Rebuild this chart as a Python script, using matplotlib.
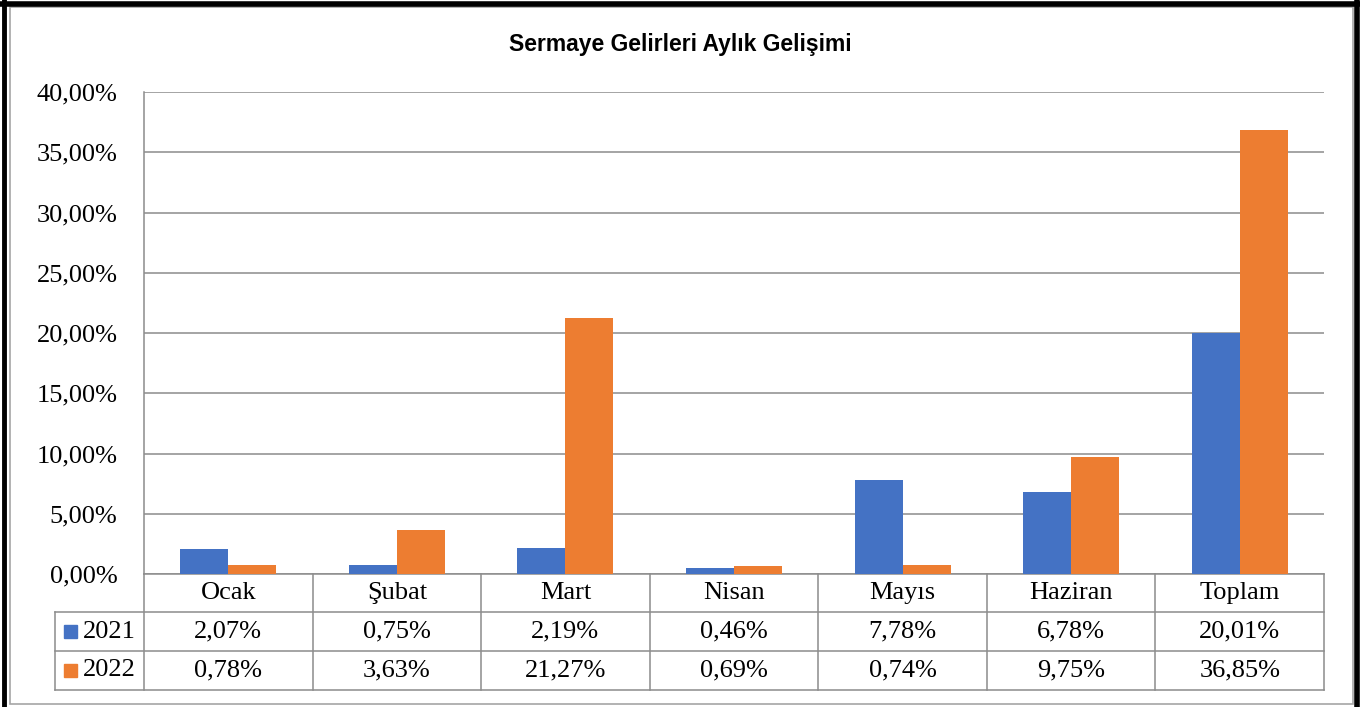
import matplotlib

matplotlib.use("Agg")

import matplotlib.pyplot as plt
import matplotlib.transforms as mtransforms
from matplotlib.patches import Rectangle
from matplotlib.lines import Line2D
import numpy as np

MONTHS = ["Ocak", "Şubat", "Mart", "Nisan", "Mayıs", "Haziran", "Toplam"]
SERIES = ["2021", "2022"]
VALUES_2021 = [2.07, 0.75, 2.19, 0.46, 7.78, 6.78, 20.01]
VALUES_2022 = [0.78, 3.63, 21.27, 0.69, 0.74, 9.75, 36.85]
COLORS = ["#4472C4", "#ED7D31"]
Y_TICKS = [0, 5, 10, 15, 20, 25, 30, 35, 40]
TITLE = "Sermaye Gelirleri Aylık Gelişimi"

GRID = "#8c8c8c"
SERIF = "Liberation Serif"


def pct(v):
    return f"{v:.2f}".replace(".", ",") + "%"


fig = plt.figure(figsize=(13.6, 7.07), dpi=100)
ax = fig.add_axes([144 / 1360, 1 - 574 / 707, 1180 / 1360, 482 / 707])

x = np.arange(len(MONTHS))
bar_w = 0.285
ax.bar(x - bar_w / 2, VALUES_2021, width=bar_w, color=COLORS[0], zorder=3)
ax.bar(x + bar_w / 2, VALUES_2022, width=bar_w, color=COLORS[1], zorder=3)

ax.set_xlim(-0.5, len(MONTHS) - 0.5)
ax.set_ylim(0, 40)
ax.set_yticks(Y_TICKS, labels=[pct(t) for t in Y_TICKS])
ax.set_xticks([])
ax.tick_params(axis="y", length=0, pad=19, labelsize=19)
for lab in ax.get_yticklabels():
    lab.set_fontfamily(SERIF)
ax.grid(axis="y", color=GRID, linewidth=1.1, zorder=0)
for side in ["top", "right", "bottom"]:
    ax.spines[side].set_visible(False)
ax.spines["left"].set_color(GRID)
ax.spines["left"].set_linewidth(1.1)

# data table under the plot: x in data units, y in axes units
trans = mtransforms.blended_transform_factory(ax.transData, ax.transAxes)
px = 1 / 482
rows = [0, -38 * px, -77 * px, -116 * px]
left = -0.5 - 89 / (1180 / 7)
right = len(MONTHS) - 0.5


def hline(x0, x1, y):
    ax.add_line(Line2D([x0, x1], [y, y], transform=trans, color=GRID,
                       linewidth=1.1, clip_on=False))


def vline(xx, y0, y1):
    ax.add_line(Line2D([xx, xx], [y0, y1], transform=trans, color=GRID,
                       linewidth=1.1, clip_on=False))


hline(-0.5, right, rows[0])
hline(left, right, rows[1])
hline(left, right, rows[2])
hline(left, right, rows[3])
vline(left, rows[1], rows[3])
for b in np.arange(-0.5, len(MONTHS), 1.0):
    vline(b, rows[0], rows[3])

for i, m in enumerate(MONTHS):
    ax.text(i, (rows[0] + rows[1]) / 2, m, transform=trans, ha="center",
            va="center", fontsize=19, family=SERIF)
    for r, vals in enumerate([VALUES_2021, VALUES_2022]):
        ax.text(i, (rows[r + 1] + rows[r + 2]) / 2, pct(vals[i]), transform=trans,
                ha="center", va="center", fontsize=19, family=SERIF)

sq_w = 13 / (1180 / 7)
sq_h = 13 * px
for r, (name, c) in enumerate(zip(SERIES, COLORS)):
    yc = (rows[r + 1] + rows[r + 2]) / 2
    ax.add_patch(Rectangle((left + 9 / (1180 / 7), yc - sq_h / 2), sq_w, sq_h,
                           transform=trans, color=c, clip_on=False))
    ax.text(left + 28 / (1180 / 7), yc, name, transform=trans, ha="left",
            va="center", fontsize=19, family=SERIF)

fig.text(0.5, 1 - 44 / 707, TITLE, ha="center", va="center", fontsize=16.5,
         fontweight="bold", family="Liberation Sans")

# outer frame: thick black on top/left/right, thin grey inner box
fig.add_artist(Rectangle((10 / 1360, 3 / 707), 1343 / 1360, 697 / 707,
                         transform=fig.transFigure, fill=False,
                         edgecolor="#a6a6a6", linewidth=1.2))
fig.add_artist(Line2D([0, 1], [1 - 4 / 707, 1 - 4 / 707], transform=fig.transFigure,
                      color="black", linewidth=4))
fig.add_artist(Line2D([4 / 1360, 4 / 1360], [0, 1], transform=fig.transFigure,
                      color="black", linewidth=3.5))
fig.add_artist(Line2D([1357 / 1360, 1357 / 1360], [0, 1], transform=fig.transFigure,
                      color="black", linewidth=4))

fig.savefig("out.png", dpi=100)
